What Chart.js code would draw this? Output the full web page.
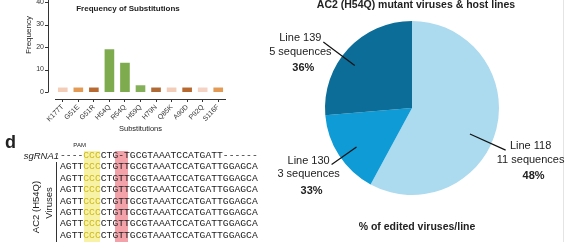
<!DOCTYPE html>
<html>
<head>
<meta charset="utf-8">
<script src="https://cdn.jsdelivr.net/npm/chart.js@4.4.1/dist/chart.umd.min.js"></script>
<style>
html, body { margin: 0; padding: 0; background: #fff; }
body { width: 568px; height: 242px; position: relative; overflow: hidden;
       font-family: "Liberation Sans", Arial, sans-serif; color: #222; }
#barChart { position: absolute; left: 0; top: -24px; }
#pieChart { position: absolute; left: 240px; top: 0; }
#edge { position: absolute; left: 563px; top: 0; width: 1px; height: 242px; background: #e4e4e4; }
#panelD { position: absolute; left: 5px; top: 133px; font-weight: bold; font-size: 18px; line-height: 18px; }
#sgLabel { position: absolute; left: 0; top: 150px; width: 59px; text-align: right;
           font-style: italic; font-size: 9.5px; line-height: 11.4px; }
#aln { position: absolute; left: 60px; top: 150px; font-family: "Liberation Mono", monospace;
       font-size: 9.7px; line-height: 11.4px; }
#aln .row { position: relative; height: 11.4px; white-space: pre; }
#aln .pam { color: #cdb81f; }
.band { position: absolute; top: 1px; height: 100px; }
#pamBand { left: calc(4ch + 1px); width: calc(3ch - 2px); background: #f7f2a6; }
#insBand { left: calc(10.5ch - 6.5px); width: 13px; background: #f3a2aa; }
#pamLabel { position: absolute; left: 4ch; width: 3ch; top: -9px; text-align: center;
            font-family: "Liberation Sans", Arial, sans-serif; font-size: 6px; line-height: 8px; }
#vline { position: absolute; left: 56px; top: 162px; width: 1px; height: 80px; background: #333; }
.rot { position: absolute; transform: translate(-50%, -50%) rotate(-90deg); white-space: nowrap;
       font-size: 9.5px; }
</style>
</head>
<body>
<div id="edge"></div>
<canvas id="barChart" width="240" height="170"></canvas>
<canvas id="pieChart" width="328" height="242"></canvas>

<div id="panelD">d</div>
<div id="sgLabel">sgRNA1</div>
<div id="vline"></div>
<div class="rot" style="left:35px; top:207px;">AC2 (H54Q)</div>
<div class="rot" style="left:48px; top:203px;">Viruses</div>
<div id="aln"><div class="band" id="pamBand"></div><div class="band" id="insBand"></div><div id="pamLabel">PAM</div></div>

<script>
const FONT = '"Liberation Sans", Arial, sans-serif';

// panel: substitution frequencies
const subs = ['K177T', 'G51E', 'G51R', 'H54Q', 'R54Q', 'H59Q', 'H79N', 'Q85K', 'A90D', 'P92Q', 'S116F'];
const freq = [2, 2, 2, 19, 13, 3, 2, 2, 2, 2, 2];
const barColors = ['#f4cdb8', '#e39a55', '#b96a33', '#7dab4e', '#7dab4e', '#84b05a',
                   '#b06a35', '#f3cdb9', '#b8692f', '#f5d3c4', '#e29a55'];
const yTicks = [0, 10, 20, 30, 40];

// panel: mutant viruses per host line
const hostLines = ['Line 118', 'Line 130', 'Line 139'];
const seqCounts = [11, 3, 5];
const seqLabels = ['11 sequences', '3 sequences', '5 sequences'];
const editedPct = ['48%', '33%', '36%'];
const pieColors = ['#acdaef', '#0e9bd6', '#0b6d98'];

// panel d: alignment
const sgRNA = '----CCCCTG-TGCGTAAATCCATGATT------';
const virusSeqs = [
    'AGTTCCCCTGTTGCGTAAATCCATGATTGGAGCA',
    'AGTTCCCCTGTTGCGTAAATCCATGATTGGAGCA',
    'AGTTCCCCTGTTGCGTAAATCCATGATTGGAGCA',
    'AGTTCCCCTGTTGCGTAAATCCATGATTGGAGCA',
    'AGTTCCCCTGTTGCGTAAATCCATGATTGGAGCA',
    'AGTTCCCCTGTTGCGTAAATCCATGATTGGAGCA',
    'AGTTCCCCTGTTGCGTAAATCCATGATTGGAGCA'
];
const pamIdx = [4, 5, 6];

function buildAlignment() {
    const aln = document.getElementById('aln');
    [sgRNA, ...virusSeqs].forEach(seq => {
        const row = document.createElement('div');
        row.className = 'row';
        row.innerHTML = seq.split('').map((c, i) =>
            pamIdx.includes(i) ? `<span class="pam">${c}</span>` : c).join('');
        aln.appendChild(row);
    });
}

const barAxes = {
    id: 'barAxes',
    afterDraw(chart) {
        const ctx = chart.ctx;
        const { left, right, top, bottom } = chart.chartArea;
        const y = chart.scales.y;
        const ax = left - 7;
        ctx.save();
        ctx.strokeStyle = '#333';
        ctx.lineWidth = 1;
        ctx.beginPath();
        ctx.moveTo(ax + 0.5, top);
        ctx.lineTo(ax + 0.5, y.getPixelForValue(0));
        y.ticks.forEach(t => {
            const py = Math.round(y.getPixelForValue(t.value)) + 0.5;
            ctx.moveTo(ax - 3, py);
            ctx.lineTo(ax + 0.5, py);
        });
        ctx.moveTo(left, Math.round(bottom) + 0.5);
        ctx.lineTo(right, Math.round(bottom) + 0.5);
        ctx.stroke();

        ctx.fillStyle = '#222';
        ctx.textAlign = 'center';
        ctx.textBaseline = 'middle';
        ctx.font = 'bold 8px ' + FONT;
        ctx.fillText('AC2', 128, top + 4);
        ctx.fillText('Frequency of Substitutions', 128, top + 16);
        ctx.font = '7.5px ' + FONT;
        ctx.fillText('Substitutions', (left + right) / 2, bottom + 30);
        ctx.save();
        ctx.translate(29, top + 42);
        ctx.rotate(-Math.PI / 2);
        ctx.font = '8px ' + FONT;
        ctx.fillText('Frequency', 0, 0);
        ctx.restore();
        ctx.restore();
    }
};

function initBarChart() {
    const ctx = document.getElementById('barChart').getContext('2d');
    new Chart(ctx, {
        type: 'bar',
        data: {
            labels: subs,
            datasets: [{
                data: freq,
                backgroundColor: barColors,
                borderWidth: 0,
                categoryPercentage: 1,
                barPercentage: 0.62
            }]
        },
        options: {
            responsive: false,
            animation: false,
            layout: { padding: { left: 0, right: 14, top: 17, bottom: 17 } },
            scales: {
                x: {
                    afterFit: s => { s.height = 30; },
                    border: { display: false },
                    grid: { display: true, drawOnChartArea: false, offset: false,
                            tickLength: 3, color: '#333' },
                    ticks: { autoSkip: false, minRotation: 45, maxRotation: 45, padding: 1,
                             color: '#333', font: { size: 7, family: FONT } }
                },
                y: {
                    min: -3.1,
                    max: 44,
                    afterBuildTicks: s => { s.ticks = yTicks.map(v => ({ value: v })); },
                    afterFit: s => { s.width = 55; },
                    border: { display: false },
                    grid: { display: false, drawTicks: false },
                    ticks: { padding: 11, color: '#333', font: { size: 7, family: FONT } }
                }
            },
            plugins: { legend: { display: false }, tooltip: { enabled: false } }
        },
        plugins: [barAxes]
    });
}

// label placement tweaks per slice (degrees, radius fractions)
const angleNudge = [10, -2, -6];
const leaderIn = [0.73, 0.78, 0.82];
const leaderOut = [1.18, 1.13, 1.27];

const pieLabels = {
    id: 'pieLabels',
    afterDraw(chart) {
        const ctx = chart.ctx;
        const arcs = chart.getDatasetMeta(0).data;
        const cx = arcs[0].x;
        ctx.save();
        ctx.fillStyle = '#222';
        ctx.textAlign = 'center';
        ctx.textBaseline = 'middle';
        ctx.font = 'bold 10.5px ' + FONT;
        ctx.fillText('AC2 (H54Q) mutant viruses & host lines', cx + 4, 5);
        ctx.fillText('% of edited viruses/line', cx + 5, 227);

        arcs.forEach((arc, i) => {
            const a = (arc.startAngle + arc.endAngle) / 2 + angleNudge[i] * Math.PI / 180;
            const r = arc.outerRadius;
            const x1 = arc.x + Math.cos(a) * r * leaderIn[i];
            const y1 = arc.y + Math.sin(a) * r * leaderIn[i];
            const x2 = arc.x + Math.cos(a) * r * leaderOut[i];
            const y2 = arc.y + Math.sin(a) * r * leaderOut[i];
            ctx.strokeStyle = '#111';
            ctx.lineWidth = 1.2;
            ctx.beginPath();
            ctx.moveTo(x1, y1);
            ctx.lineTo(x2, y2);
            ctx.stroke();

            const tx = Math.cos(a) > 0 ? x2 + 25 : x2 - 23;
            const ty = y2 - 4;
            ctx.font = '11px ' + FONT;
            ctx.fillText(hostLines[i], tx, ty);
            ctx.fillText(seqLabels[i], tx, ty + 13.5);
            ctx.font = 'bold 11px ' + FONT;
            ctx.fillText(editedPct[i], tx + 3, ty + 30);
        });
        ctx.restore();
    }
};

function initPieChart() {
    const ctx = document.getElementById('pieChart').getContext('2d');
    new Chart(ctx, {
        type: 'pie',
        data: {
            labels: hostLines,
            datasets: [{ data: seqCounts, backgroundColor: pieColors, borderWidth: 0 }]
        },
        options: {
            responsive: false,
            animation: false,
            layout: { padding: { left: 85, right: 69, top: 21, bottom: 47 } },
            plugins: { legend: { display: false }, tooltip: { enabled: false } }
        },
        plugins: [pieLabels]
    });
}

buildAlignment();
initBarChart();
initPieChart();
</script>
</body>
</html>
